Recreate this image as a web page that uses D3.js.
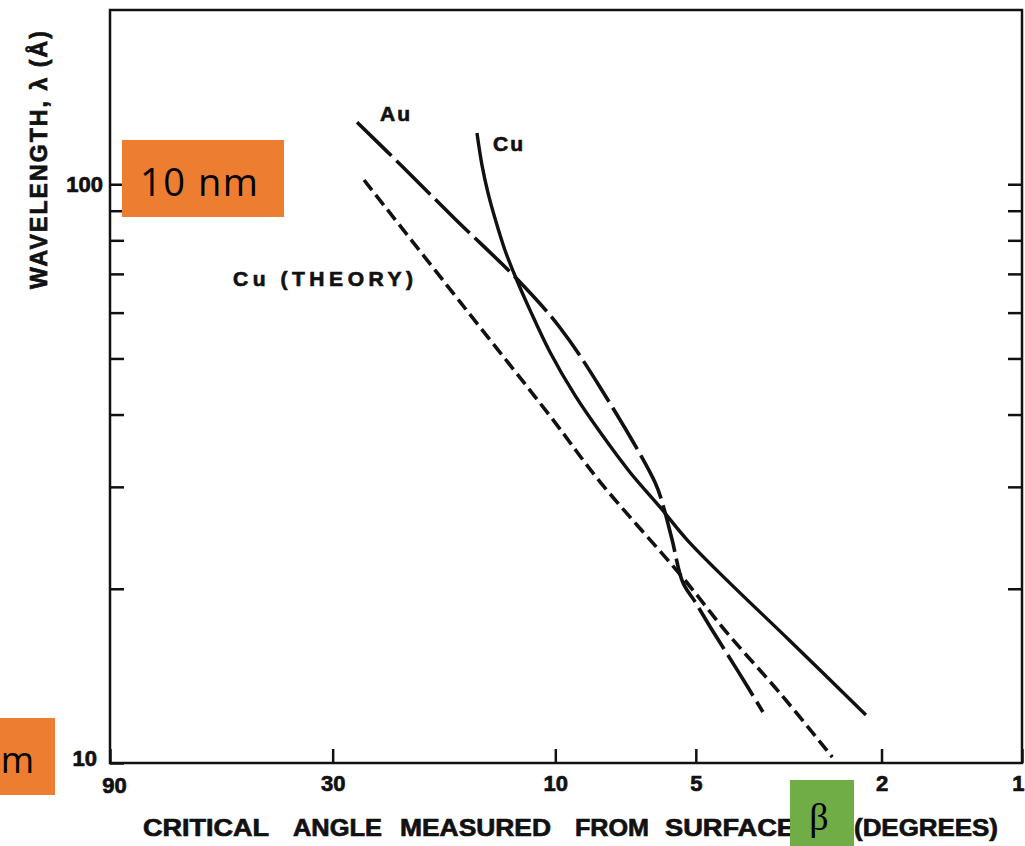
<!DOCTYPE html>
<html><head><meta charset="utf-8">
<script src="https://cdn.jsdelivr.net/npm/d3@7"></script>
<style>body{margin:0;background:#fff}svg{display:block}</style>
</head><body>
<svg id="chart" width="1025" height="846"></svg>
<script>
// ---- data ----
const xTickValues = [90, 30, 10, 5, 2, 1];
const yTickValues = [10, 20, 30, 40, 50, 60, 70, 80, 90, 100];
const yTickLabels = [10, 100];
const seriesNames = ["Au", "Cu", "Cu (THEORY)"];

const auAngle  = [26.6, 21.3, 16.4, 12.02, 9.77, 8.02, 6.11, 5.88, 5.62, 5.33, 5.02, 4.66, 4.08, 3.59];
const auLambda = [128, 107.4, 87.1, 68.3, 56.5, 44.6, 30.5, 27.9, 24.3, 20.5, 19.0, 17.2, 14.5, 12.25];

const cuAngle  = [14.72, 14.36, 13.94, 13.40, 12.82, 12.14, 11.33, 10.27, 9.08, 8.02, 6.92, 5.97, 5.22, 4.29, 3.14, 2.16];
const cuLambda = [122.6, 107.9, 96.6, 86.1, 76.9, 68.8, 60.6, 51.3, 43.2, 37.3, 31.8, 27.7, 24.3, 20.7, 16.25, 12.1];

const theoryAngle  = [25.7, 16.0, 10.27, 8.02, 5.33, 4.29, 3.30, 2.55];
const theoryLambda = [101.7, 62.6, 39.8, 30.6, 20.9, 16.8, 13.2, 10.24];

const xTitleWords = ["CRITICAL", "ANGLE", "MEASURED", "FROM", "SURFACE", "(DEGREES)"];
const yTitle = "WAVELENGTH, \u03bb (\u00c5)";

// ---- drawing ----
const svg = d3.select("#chart");
const ink = "#111";
const L = 110, R = 1022, T = 10, B = 763;
const FONT = "'Liberation Sans', Arial, sans-serif";

const x = d3.scaleLog().domain([90, 1]).range([L, R]);
const y = d3.scaleLog().domain([10, 200]).range([B, T]);

// frame
svg.append("rect").attr("x", L).attr("y", T).attr("width", R - L).attr("height", B - T)
  .attr("fill", "none").attr("stroke", ink).attr("stroke-width", 2.5);

const boldText = (g, size) => g.attr("font-family", FONT).attr("font-weight", "bold")
  .attr("font-size", size).attr("fill", ink).attr("stroke", ink).attr("stroke-width", 0.7);

// bottom axis
const xAxis = svg.append("g").attr("transform", `translate(0,${B})`)
  .call(d3.axisBottom(x).tickValues(xTickValues).tickSize(-14).tickPadding(12)
    .tickFormat(d3.format("d")));
xAxis.select(".domain").remove();
xAxis.selectAll("line").attr("stroke", ink).attr("stroke-width", 2.5);
xAxis.selectAll("text").call(boldText, 22);
xAxis.selectAll(".tick").filter(d => d === 90).select("text").attr("x", 4).attr("dy", "0.82em");
xAxis.selectAll(".tick").filter(d => d === 1).select("text").attr("text-anchor", "end").attr("x", 2);

// left axis
const yAxis = svg.append("g").attr("transform", `translate(${L},0)`)
  .call(d3.axisLeft(y).tickValues(yTickValues).tickSize(-14).tickPadding(7)
    .tickFormat(d => yTickLabels.includes(d) ? d : ""));
yAxis.select(".domain").remove();
yAxis.selectAll("line").attr("stroke", ink).attr("stroke-width", 2.5);
yAxis.selectAll("text").call(boldText, 22);
yAxis.selectAll(".tick").filter(d => d === 10).select("text").attr("x", -13).attr("dy", "0.1em");

// right axis (ticks only)
const yAxisR = svg.append("g").attr("transform", `translate(${R},0)`)
  .call(d3.axisRight(y).tickValues(yTickValues.filter(d => d > 10)).tickSize(-14).tickFormat(""));
yAxisR.select(".domain").remove();
yAxisR.selectAll("line").attr("stroke", ink).attr("stroke-width", 2.5);

// curves
const line = d3.line().x(d => x(d[0])).y(d => y(d[1])).curve(d3.curveCatmullRom.alpha(0.5));
const zip = (a, b) => a.map((v, i) => [v, b[i]]);

svg.append("path").datum(zip(auAngle, auLambda)).attr("d", line)
  .attr("fill", "none").attr("stroke", ink).attr("stroke-width", 3.6)
  .attr("stroke-dasharray", "48,7");
svg.append("path").datum(zip(cuAngle, cuLambda)).attr("d", line)
  .attr("fill", "none").attr("stroke", ink).attr("stroke-width", 3.4);
svg.append("path").datum(zip(theoryAngle, theoryLambda)).attr("d", line)
  .attr("fill", "none").attr("stroke", ink).attr("stroke-width", 3.6)
  .attr("stroke-dasharray", "13,6");

// curve labels
const lab = svg.append("g").call(boldText, 21);
lab.append("text").attr("x", 380).attr("y", 121).attr("textLength", 30).text(seriesNames[0]);
lab.append("text").attr("x", 493).attr("y", 151).attr("textLength", 30).text(seriesNames[1]);
lab.append("text").attr("x", 233).attr("y", 286).attr("textLength", 180)
  .attr("lengthAdjust", "spacing").text(seriesNames[2]);

// axis titles
const xt = svg.append("g").call(boldText, 24);
const wordPos = [[143, 126], [293, 89], [400, 151], [575, 74], [665, 130], [854, 144]];
xTitleWords.forEach((w, i) => {
  xt.append("text").attr("x", wordPos[i][0]).attr("y", 836)
    .attr("textLength", wordPos[i][1]).attr("lengthAdjust", "spacingAndGlyphs").text(w);
});

svg.append("text").attr("transform", "translate(47,160) rotate(-90)")
  .attr("text-anchor", "middle").call(boldText, 23)
  .attr("textLength", 258).attr("lengthAdjust", "spacing").text(yTitle);

// overlay boxes
svg.append("rect").attr("x", 122).attr("y", 140).attr("width", 162).attr("height", 77).attr("fill", "#ED7D31");
svg.append("text").attr("x", 140).attr("y", 196).attr("font-family", "'Open Sans', 'Noto Sans', sans-serif")
  .attr("font-size", 38).attr("fill", "#000").attr("textLength", 118).text("10 nm");

svg.append("rect").attr("x", 0).attr("y", 718).attr("width", 55).attr("height", 77).attr("fill", "#ED7D31");
svg.append("text").attr("x", 34).attr("y", 773).attr("text-anchor", "end")
  .attr("font-family", "'Open Sans', 'Noto Sans', sans-serif")
  .attr("font-size", 36).attr("fill", "#000").text("m");

svg.append("rect").attr("x", 790).attr("y", 780).attr("width", 64).attr("height", 66).attr("fill", "#70AD47");
svg.append("text").attr("x", 819).attr("y", 830).attr("text-anchor", "middle")
  .attr("font-family", "'Liberation Serif', 'DejaVu Serif', serif")
  .attr("font-size", 38).attr("fill", "#000").text("\u03b2");
</script>
</body></html>
